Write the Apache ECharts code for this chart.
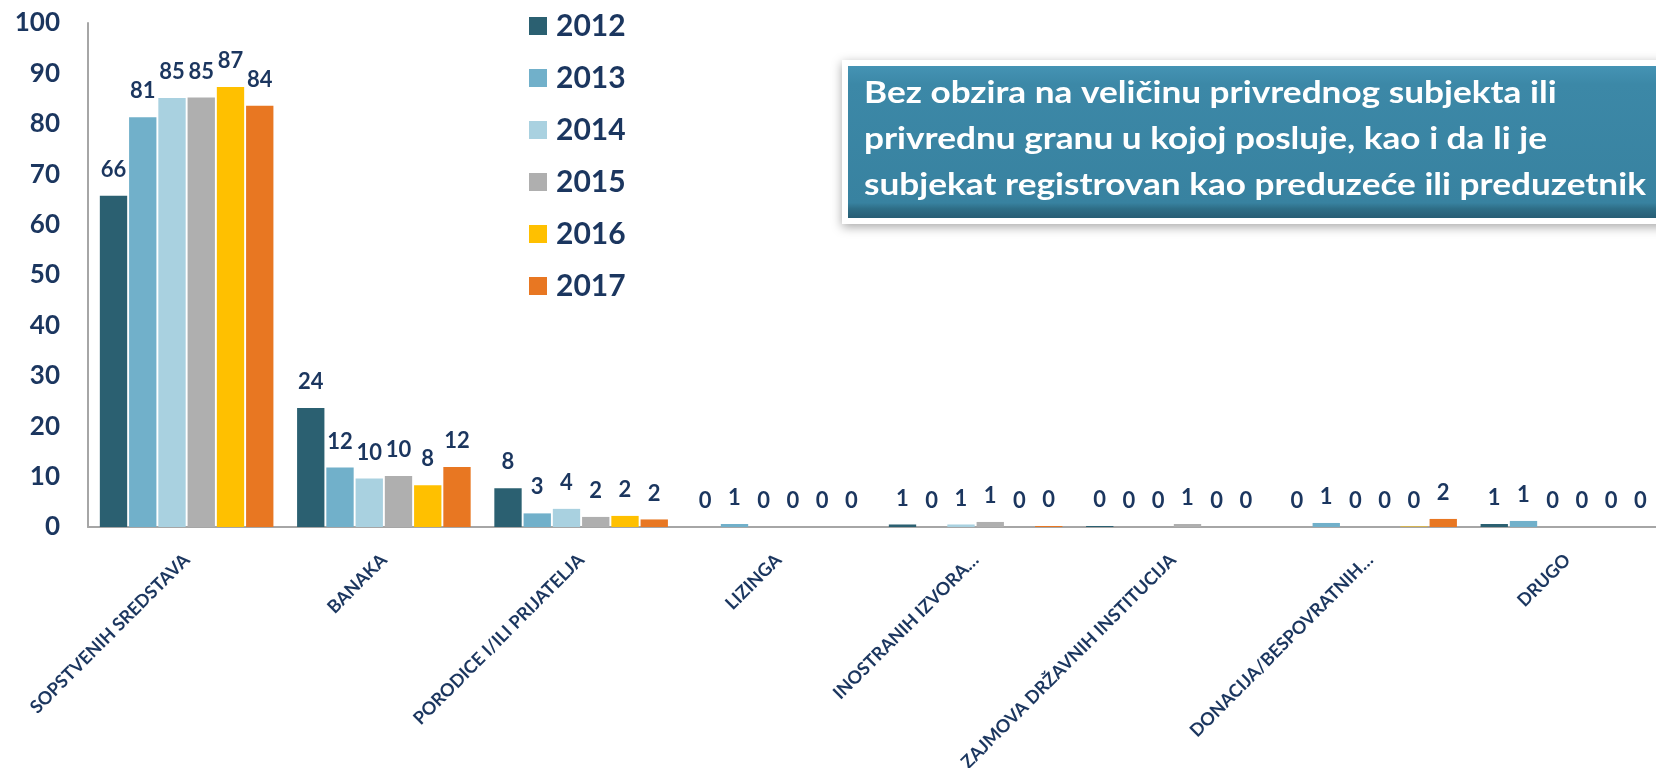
<!DOCTYPE html>
<html>
<head>
<meta charset="utf-8">
<script src="https://cdn.jsdelivr.net/npm/echarts@6/dist/echarts.min.js"></script>
<style>
  html, body { margin: 0; padding: 0; background: #ffffff; }
  #chart { width: 1656px; height: 768px; }
</style>
</head>
<body>
<div id="chart"></div>
<script>
// Izvori finansiranja (%), po godinama
const categories = [
  'SOPSTVENIH SREDSTAVA',
  'BANAKA',
  'PORODICE I/ILI PRIJATELJA',
  'LIZINGA',
  'INOSTRANIH IZVORA…',
  'ZAJMOVA DRŽAVNIH INSTITUCIJA',
  'DONACIJA/BESPOVRATNIH…',
  'DRUGO'
];
const years = ['2012', '2013', '2014', '2015', '2016', '2017'];

const v2012 = [65.7, 23.6, 7.7, 0.0, 0.5, 0.2, 0.0, 0.6];
const v2013 = [81.3, 11.8, 2.7, 0.6, 0.0, 0.0, 0.8, 1.2];
const v2014 = [85.1, 9.6, 3.6, 0.0, 0.5, 0.0, 0.0, 0.0];
const v2015 = [85.2, 10.1, 2.0, 0.0, 1.0, 0.6, 0.0, 0.0];
const v2016 = [87.3, 8.3, 2.2, 0.0, 0.0, 0.0, 0.1, 0.0];
const v2017 = [83.6, 11.9, 1.5, 0.0, 0.2, 0.0, 1.6, 0.0];

const yTicks = { min: 0, max: 100, interval: 10 };

const noteLines = [
  'Bez obzira na veličinu privrednog subjekta ili',
  'privrednu granu u kojoj posluje, kao i da li je',
  'subjekat registrovan kao preduzeće ili preduzetnik'
];

const seriesValues = [v2012, v2013, v2014, v2015, v2016, v2017];
const colors = ['#2B6071', '#71B0CA', '#A9D1E0', '#AFAFAF', '#FFC000', '#E87722'];
const navy = '#1B365F';
const font = 'Lato, "Open Sans", sans-serif';

const chart = echarts.init(document.getElementById('chart'));

chart.setOption({
  animation: false,
  color: colors,
  grid: {
    left: 88, right: -10, top: 23, bottom: 241,
    containLabel: false,
    outerBoundsMode: 'none'
  },
  legend: {
    orient: 'vertical',
    left: 524,
    top: 6,
    itemWidth: 18,
    itemHeight: 18,
    itemGap: 22,
    icon: 'rect',
    textStyle: { color: navy, fontFamily: font, fontWeight: 'bold', fontSize: 30, lineHeight: 30, padding: [0, 0, 0, 4] },
    data: years
  },
  xAxis: {
    type: 'category',
    data: categories,
    axisLine: { lineStyle: { color: '#A6A6A6', width: 2 } },
    axisTick: { show: false },
    axisLabel: {
      rotate: 45,
      interval: 0,
      margin: 30,
      color: navy,
      fontFamily: font,
      fontSize: 18,
      fontWeight: 'bold'
    }
  },
  yAxis: {
    type: 'value',
    min: yTicks.min,
    max: yTicks.max,
    interval: yTicks.interval,
    axisLine: { show: true, lineStyle: { color: '#A6A6A6', width: 2 } },
    axisTick: { show: false },
    splitLine: { show: false },
    axisLabel: {
      margin: 28,
      color: navy,
      fontFamily: font,
      fontSize: 26,
      fontWeight: 'bold'
    }
  },
  series: years.map((y, i) => ({
    name: y,
    type: 'bar',
    data: seriesValues[i],
    barCategoryGap: '12%',
    barGap: '7%',
    label: {
      show: true,
      position: 'top',
      distance: 15,
      color: navy,
      fontFamily: font,
      fontSize: 22,
      fontWeight: 'bold',
      formatter: p => String(Math.round(p.value))
    }
  })),
  graphic: [
    {
      type: 'group',
      left: 842,
      top: 60,
      children: [
        {
          type: 'rect',
          shape: { x: 0, y: 0, width: 830, height: 164 },
          style: {
            fill: '#FFFFFF',
            shadowBlur: 10,
            shadowOffsetY: 3,
            shadowColor: 'rgba(0,0,0,0.35)'
          }
        },
        {
          type: 'rect',
          shape: { x: 6, y: 6, width: 830, height: 152 },
          style: {
            fill: new echarts.graphic.LinearGradient(0, 0, 0, 1, [
              { offset: 0, color: '#4593B4' },
              { offset: 0.12, color: '#3C88A7' },
              { offset: 0.9, color: '#3882A0' },
              { offset: 0.94, color: '#2E6D86' },
              { offset: 1, color: '#275D74' }
            ])
          }
        },
        {
          type: 'text',
          x: 22,
          y: 10,
          scaleX: 1.135,
          style: {
            text: noteLines.join('\n'),
            fill: '#FFFFFF',
            font: 'bold 31px ' + font,
            lineHeight: 46,
            verticalAlign: 'top'
          }
        }
      ]
    }
  ]
});
</script>
</body>
</html>
